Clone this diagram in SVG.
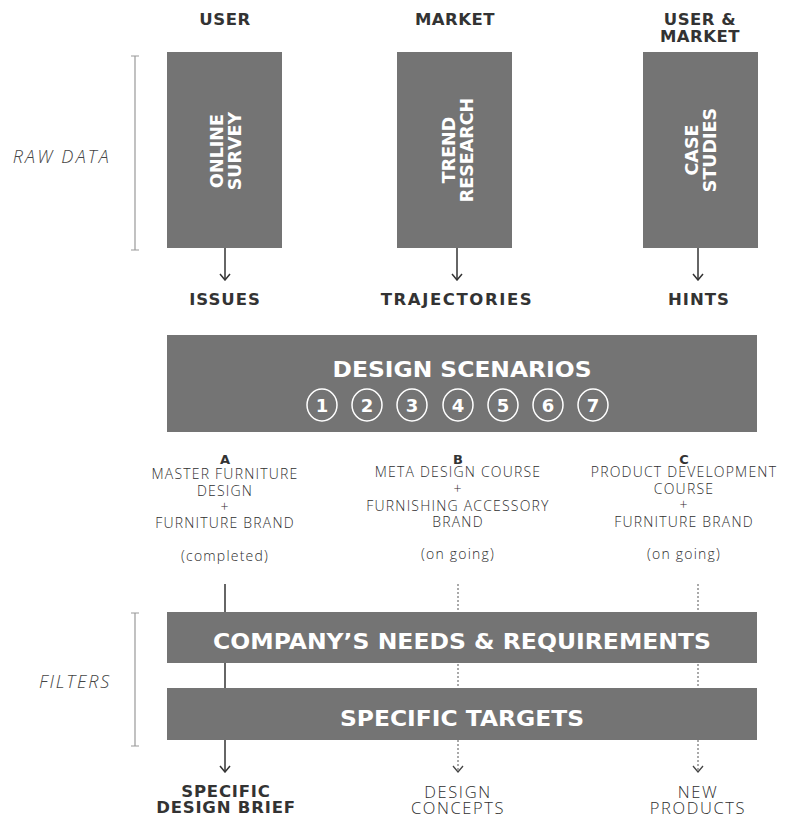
<svg xmlns="http://www.w3.org/2000/svg" width="785" height="818" viewBox="0 0 785 818">
<style>
.box{fill:#747474}
.hdr{font-family:"DejaVu Sans",sans-serif;font-weight:bold;font-size:16.5px;fill:#333;text-anchor:middle}
.vt{font-family:"DejaVu Sans",sans-serif;font-weight:bold;font-size:17.5px;fill:#fff;text-anchor:middle}
.big{font-family:"DejaVu Sans",sans-serif;font-weight:bold;font-size:22px;fill:#fff;text-anchor:middle}
.num{font-family:"DejaVu Sans",sans-serif;font-weight:bold;font-size:18px;fill:#fff;text-anchor:middle}
.lt{font-family:"Open Sans","DejaVu Sans",sans-serif;font-weight:300;font-size:14px;letter-spacing:1.2px;fill:#2e2e2e;text-anchor:middle}
.lb{font-family:"Open Sans","DejaVu Sans",sans-serif;font-weight:300;font-size:16.5px;letter-spacing:1.6px;fill:#2e2e2e;text-anchor:middle}
.it{font-family:"Open Sans","DejaVu Sans",sans-serif;font-style:italic;font-weight:300;font-size:18px;fill:#444;text-anchor:end}
.ln{stroke:#333;stroke-width:1.5;fill:none}
.dot{stroke:#555;stroke-width:1;stroke-dasharray:2,2;fill:none}
.br{stroke:#999;stroke-width:1.2;fill:none}
.circ{fill:none;stroke:#fff;stroke-width:1.5}
</style>
<defs>
<marker id="ah" markerWidth="12" markerHeight="8" refX="6" refY="7" markerUnits="userSpaceOnUse" viewBox="0 0 12 8">
<path d="M1,1 L6,7 L11,1" stroke="#333" stroke-width="1.5" fill="none"/>
</marker>
<marker id="ahd" markerWidth="12" markerHeight="8" refX="6" refY="7" markerUnits="userSpaceOnUse" viewBox="0 0 12 8">
<path d="M1,1 L6,7 L11,1" stroke="#444" stroke-width="1.3" fill="none"/>
</marker>
</defs>

<g id="connectors">
<line class="ln" x1="225" y1="248" x2="225" y2="280" marker-end="url(#ah)"/>
<line class="ln" x1="457" y1="248" x2="457" y2="280" marker-end="url(#ah)"/>
<line class="ln" x1="698" y1="248" x2="698" y2="280" marker-end="url(#ah)"/>
<line class="ln" x1="225" y1="584" x2="225" y2="772" marker-end="url(#ah)"/>
<line class="dot" x1="458" y1="584" x2="458" y2="772" marker-end="url(#ahd)"/>
<line class="dot" x1="698" y1="584" x2="698" y2="772" marker-end="url(#ahd)"/>
</g>

<g id="brackets">
<path class="br" d="M135,56 V250 M131,56 H139 M131,250 H139"/>
<path class="br" d="M135,613 V746 M131,613 H139 M131,746 H139"/>
<text class="it" x="111" y="163" letter-spacing="2.2">RAW DATA</text>
<text class="it" x="111" y="688" letter-spacing="1.8">FILTERS</text>
</g>

<g id="headers">
<text class="hdr" x="225" y="25" letter-spacing="0.5">USER</text>
<text class="hdr" x="455" y="25" letter-spacing="0.5">MARKET</text>
<text class="hdr" x="700" y="25" letter-spacing="0.5">USER &amp;</text>
<text class="hdr" x="700" y="42" letter-spacing="0.5">MARKET</text>
</g>

<g id="online-survey">
<rect class="box" x="167" y="52" width="115" height="196"/>
<text class="vt" transform="translate(225,151) rotate(-90)"><tspan x="0" y="-2">ONLINE</tspan><tspan x="0" y="15.5">SURVEY</tspan></text>
</g>
<g id="trend-research">
<rect class="box" x="397" y="52" width="115" height="196"/>
<text class="vt" transform="translate(456,150) rotate(-90)"><tspan x="0" y="-1">TREND</tspan><tspan x="0" y="16.5">RESEARCH</tspan></text>
</g>
<g id="case-studies">
<rect class="box" x="643" y="52" width="115" height="196"/>
<text class="vt" transform="translate(701,150) rotate(-90)"><tspan x="0" y="-3">CASE</tspan><tspan x="0" y="15">STUDIES</tspan></text>
</g>

<g id="outputs-top">
<text class="hdr" x="225" y="305" letter-spacing="1">ISSUES</text>
<text class="hdr" x="457" y="305" letter-spacing="1.6">TRAJECTORIES</text>
<text class="hdr" x="699" y="305" letter-spacing="1">HINTS</text>
</g>

<g id="design-scenarios">
<rect class="box" x="167" y="335" width="590" height="97"/>
<text class="big" x="462" y="377" textLength="259" lengthAdjust="spacingAndGlyphs">DESIGN SCENARIOS</text>
<g>
<ellipse class="circ" cx="322" cy="405" rx="15" ry="16"/><text class="num" x="322" y="412">1</text>
<ellipse class="circ" cx="367" cy="405" rx="15" ry="16"/><text class="num" x="367" y="412">2</text>
<ellipse class="circ" cx="412" cy="405" rx="15" ry="16"/><text class="num" x="412" y="412">3</text>
<ellipse class="circ" cx="458" cy="405" rx="15" ry="16"/><text class="num" x="458" y="412">4</text>
<ellipse class="circ" cx="503" cy="405" rx="15" ry="16"/><text class="num" x="503" y="412">5</text>
<ellipse class="circ" cx="548" cy="405" rx="15" ry="16"/><text class="num" x="548" y="412">6</text>
<ellipse class="circ" cx="593" cy="405" rx="15" ry="16"/><text class="num" x="593" y="412">7</text>
</g>
</g>

<g id="scenario-a">
<text class="hdr" x="225" y="464" style="font-size:13px">A</text>
<text class="lt" x="225" y="479">MASTER FURNITURE</text>
<text class="lt" x="225" y="496">DESIGN</text>
<text class="lt" x="225" y="512">+</text>
<text class="lt" x="225" y="528">FURNITURE BRAND</text>
<text class="lt" x="225" y="561">(completed)</text>
</g>
<g id="scenario-b">
<text class="hdr" x="458" y="464" style="font-size:13px">B</text>
<text class="lt" x="458" y="477">META DESIGN COURSE</text>
<text class="lt" x="458" y="494">+</text>
<text class="lt" x="458" y="511">FURNISHING ACCESSORY</text>
<text class="lt" x="458" y="527">BRAND</text>
<text class="lt" x="458" y="559">(on going)</text>
</g>
<g id="scenario-c">
<text class="hdr" x="684" y="464" style="font-size:13px">C</text>
<text class="lt" x="684" y="477">PRODUCT DEVELOPMENT</text>
<text class="lt" x="684" y="494">COURSE</text>
<text class="lt" x="684" y="510">+</text>
<text class="lt" x="684" y="527">FURNITURE BRAND</text>
<text class="lt" x="684" y="559">(on going)</text>
</g>

<g id="company-needs">
<rect class="box" x="167" y="612" width="590" height="51"/>
<text class="big" x="462" y="649" textLength="498" lengthAdjust="spacingAndGlyphs">COMPANY’S NEEDS &amp; REQUIREMENTS</text>
</g>
<g id="specific-targets">
<rect class="box" x="167" y="688" width="590" height="52"/>
<text class="big" x="462" y="726" textLength="244" lengthAdjust="spacingAndGlyphs">SPECIFIC TARGETS</text>
</g>

<g id="outputs-bottom">
<text class="hdr" x="226" y="797" letter-spacing="0.8">SPECIFIC</text>
<text class="hdr" x="226" y="813" letter-spacing="0.8">DESIGN BRIEF</text>
<text class="lb" x="458" y="798">DESIGN</text>
<text class="lb" x="458" y="814">CONCEPTS</text>
<text class="lb" x="698" y="798">NEW</text>
<text class="lb" x="698" y="814">PRODUCTS</text>
</g>
</svg>
